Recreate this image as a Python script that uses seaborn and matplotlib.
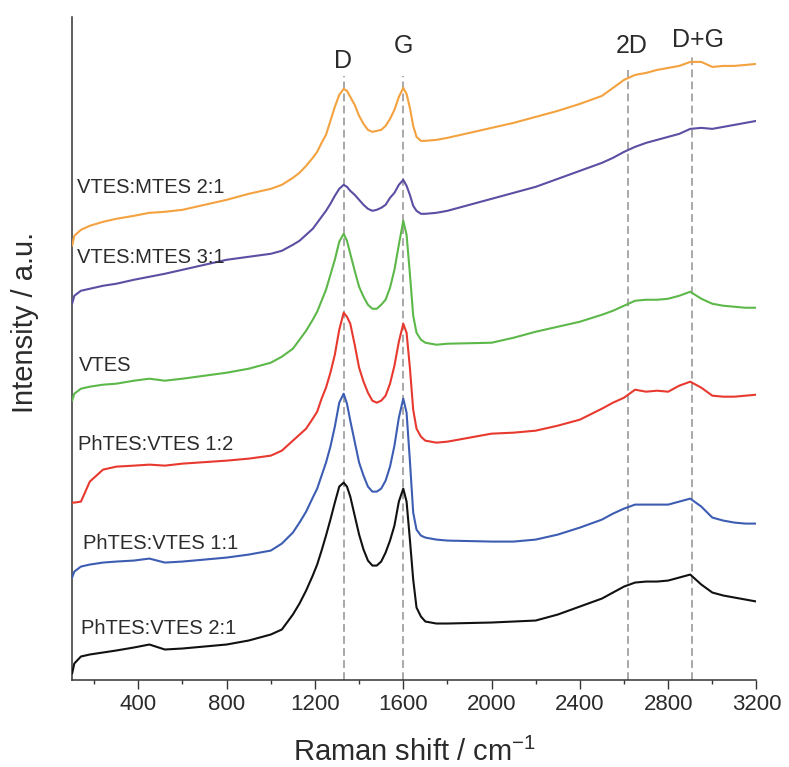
import matplotlib
matplotlib.use("Agg")
import matplotlib.pyplot as plt
import seaborn as sns
from matplotlib.ticker import MultipleLocator

# Raman shift grid (cm^-1) shared by all spectra
wavenumber = [100, 110, 140, 180, 240, 300, 380, 450, 520, 600,
              800, 900, 1000, 1050, 1100, 1130, 1160, 1190, 1210, 1230,
              1250, 1270, 1290, 1310, 1330, 1345, 1360, 1380, 1400, 1420,
              1440, 1460, 1480, 1500, 1520, 1540, 1560, 1580, 1600, 1615,
              1630, 1645, 1660, 1680, 1700, 1750, 1800, 2000, 2100, 2200,
              2300, 2400, 2500, 2550, 2600, 2650, 2700, 2750, 2800, 2850,
              2900, 2950, 3000, 3050, 3100, 3150, 3200]

# Stacked spectra (intensity, a.u., vertical offset included)
vtes_mtes_2_1 = [435, 445, 451, 455, 459, 462, 465, 468, 469, 471,
                 481, 487, 492, 496, 503, 508, 515, 523, 529, 538,
                 546, 560, 574, 586, 592, 590, 584, 576, 565, 557,
                 551, 549, 550, 551, 555, 562, 571, 584, 593, 587,
                 573, 555, 544, 540, 540, 541, 543, 553, 558, 564,
                 570, 577, 585, 593, 601, 606, 608, 611, 613, 615,
                 619, 619, 614, 615, 615, 616, 617]
vtes_mtes_3_1 = [377, 385, 390, 392, 395, 397, 401, 404, 407, 411,
                 421, 424, 427, 430, 436, 440, 446, 452, 458, 464,
                 470, 477, 485, 492, 496, 494, 490, 486, 481, 476,
                 472, 470, 471, 473, 476, 483, 488, 496, 501, 495,
                 486, 475, 470, 467, 467, 468, 470, 482, 488, 494,
                 502, 510, 518, 523, 529, 534, 538, 541, 544, 547,
                 552, 553, 552, 554, 556, 558, 560]
vtes = [280, 287, 292, 294, 296, 297, 300, 302, 300, 302,
        308, 312, 318, 324, 332, 341, 350, 361, 369, 380,
        391, 406, 421, 439, 447, 440, 427, 410, 394, 384,
        376, 372, 372, 376, 381, 393, 411, 436, 460, 446,
        407, 365, 348, 341, 338, 336, 337, 338, 343, 349,
        354, 359, 366, 370, 375, 380, 381, 381, 382, 385,
        389, 382, 377, 375, 374, 373, 373]
phtes_vtes_1_2 = [178, 178, 179, 199, 211, 214, 215, 216, 215, 217,
                  220, 222, 225, 230, 240, 246, 252, 262, 269, 282,
                  293, 308, 326, 351, 368, 364, 357, 336, 313, 299,
                  288, 280, 278, 280, 285, 297, 315, 339, 357, 348,
                  313, 271, 252, 244, 240, 238, 239, 247, 248, 250,
                  255, 261, 272, 278, 283, 291, 289, 290, 289, 295,
                  299, 293, 285, 284, 284, 285, 286]
phtes_vtes_1_1 = [103, 109, 114, 116, 118, 119, 120, 122, 118, 119,
                  123, 126, 130, 137, 148, 158, 169, 183, 192, 205,
                  218, 234, 254, 278, 287, 277, 260, 239, 218, 205,
                  194, 189, 189, 192, 200, 214, 235, 263, 282, 268,
                  220, 168, 151, 145, 143, 141, 140, 139, 139, 141,
                  146, 153, 161, 167, 172, 176, 176, 176, 176, 179,
                  182, 174, 163, 160, 158, 157, 157]
phtes_vtes_2_1 = [7, 17, 24, 26, 28, 30, 33, 36, 31, 32,
                  36, 40, 46, 51, 66, 77, 90, 105, 116, 130,
                  145, 161, 178, 194, 198, 194, 184, 165, 146, 131,
                  120, 115, 115, 119, 128, 140, 155, 179, 192, 179,
                  141, 101, 73, 64, 59, 57, 57, 58, 59, 60,
                  66, 74, 82, 88, 94, 98, 99, 99, 100, 103,
                  106, 96, 88, 85, 83, 81, 79]

sample_names = ["VTES:MTES 2:1", "VTES:MTES 3:1", "VTES",
                "PhTES:VTES 1:2", "PhTES:VTES 1:1", "PhTES:VTES 2:1"]
spectra = [vtes_mtes_2_1, vtes_mtes_3_1, vtes, phtes_vtes_1_2, phtes_vtes_1_1, phtes_vtes_2_1]
colors = ["#F4A23F", "#5A4FA3", "#5DB84A", "#E8392F", "#3D5DB3", "#111111"]
# left edge and baseline of each sample name
name_x = [122, 121, 133, 128, 148, 139]
name_y = [488, 418, 310, 231, 132, 47]

# Band assignments
band_names = ["D", "G", "2D", "D+G"]
band_positions = [1330, 1600, 2620, 2910]
band_line_tops = [605, 605, 611, 624]
band_label_x = [1325, 1603, 2634, 2936]
band_label_y = [613, 628, 628, 634]

sns.set_style("ticks")
plt.rcParams["font.family"] = ["Liberation Sans", "DejaVu Sans"]
plt.rcParams["mathtext.fontset"] = "custom"
plt.rcParams["mathtext.rm"] = "Liberation Sans"
plt.rcParams["mathtext.it"] = "Liberation Sans:italic"

fig = plt.figure(figsize=(7.89, 7.67), dpi=100)
ax = fig.add_axes([0.0914, 0.1128, 0.8674, 0.8651])

for pos, top in zip(band_positions, band_line_tops):
    ax.plot([pos, pos], [0, top], color="#A8A8A8", lw=1.4,
            linestyle=(0, (4, 2.2)), zorder=1)

for vals, color in zip(spectra, colors):
    sns.lineplot(x=wavenumber, y=vals, color=color, lw=1.5, ax=ax,
                 sort=False, estimator=None, zorder=3)

for name, x, y in zip(sample_names, name_x, name_y):
    ax.text(x, y, name, fontsize=14.5, color="#2b2b2b", ha="left", va="baseline")

for name, x, y in zip(band_names, band_label_x, band_label_y):
    ax.text(x, y, name, fontsize=18, color="#2b2b2b", ha="center", va="baseline")

ax.set_xlim(100, 3200)
ax.set_ylim(0, 664)
ax.xaxis.set_minor_locator(MultipleLocator(200))
ax.set_xticks(range(400, 3201, 400))
ax.set_yticks([])
ax.tick_params(axis="x", which="major", direction="out", length=6.5, width=1.0,
               color="#333333", labelsize=16, labelcolor="#2b2b2b", pad=3.5)
ax.tick_params(axis="x", which="minor", direction="out", length=3.2, width=1.0,
               color="#333333")
sns.despine(ax=ax, top=True, right=True)
for side in ("left", "bottom"):
    ax.spines[side].set_linewidth(1.1)
    ax.spines[side].set_color("#333333")

ax.set_xlabel(r"Raman shift / cm$^{-1}$", fontsize=21, color="#2b2b2b", labelpad=16)
ax.set_ylabel("Intensity / a.u.", fontsize=21, color="#2b2b2b", va="center")
ax.yaxis.set_label_coords(-0.0684, 0.54)

fig.savefig("out.png", dpi=100)
